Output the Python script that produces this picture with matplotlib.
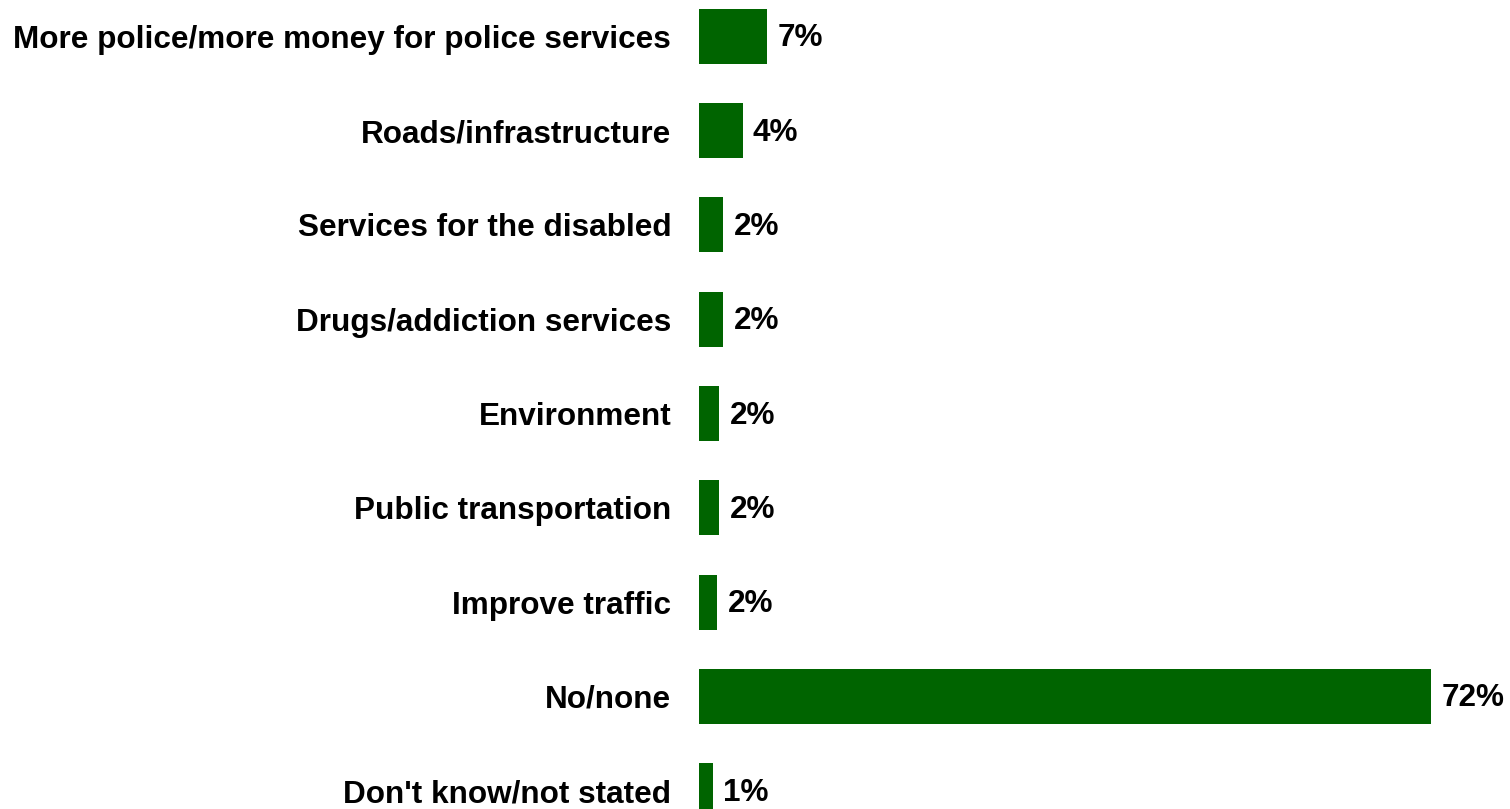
import matplotlib
matplotlib.use('Agg')
import matplotlib.pyplot as plt

categories = [
    'More police/more money for police services',
    'Roads/infrastructure',
    'Services for the disabled',
    'Drugs/addiction services',
    'Environment',
    'Public transportation',
    'Improve traffic',
    'No/none',
    "Don't know/not stated",
]
values = [6.7, 4.3, 2.4, 2.4, 2.0, 2.0, 1.8, 72.0, 1.4]

BAR_COLOR = '#006400'
FONT_SIZE = 22.7
plt.rcParams['font.family'] = ['Liberation Sans', 'DejaVu Sans']

W, H = 1510, 809
fig = plt.figure(figsize=(W / 100, H / 100), dpi=100)

# axis spans from the bar baseline to the end of the largest bar
x0, x1 = 699, 1431
ax = fig.add_axes([x0 / W, 0, (x1 - x0) / W, 1])

step, first = 94.3, 36.3
ax.set_ylim((H - first) / step, -first / step)
ax.set_xlim(0, max(values))

ypos = list(range(len(categories)))
ax.barh(ypos, values, height=0.585, color=BAR_COLOR)

for y, v in zip(ypos, values):
    ax.annotate(f'{v:.0f}%', xy=(v, y), xytext=(7.3, -1.5), textcoords='offset points',
                ha='left', va='center', fontsize=FONT_SIZE, fontweight='bold',
                annotation_clip=False)

ax.set_yticks(ypos)
ax.set_yticklabels(categories, fontsize=FONT_SIZE, fontweight='bold')
ax.tick_params(axis='y', length=0, pad=20)
ax.set_xticks([])
for s in ax.spines.values():
    s.set_visible(False)

fig.savefig('out.png', dpi=100)
